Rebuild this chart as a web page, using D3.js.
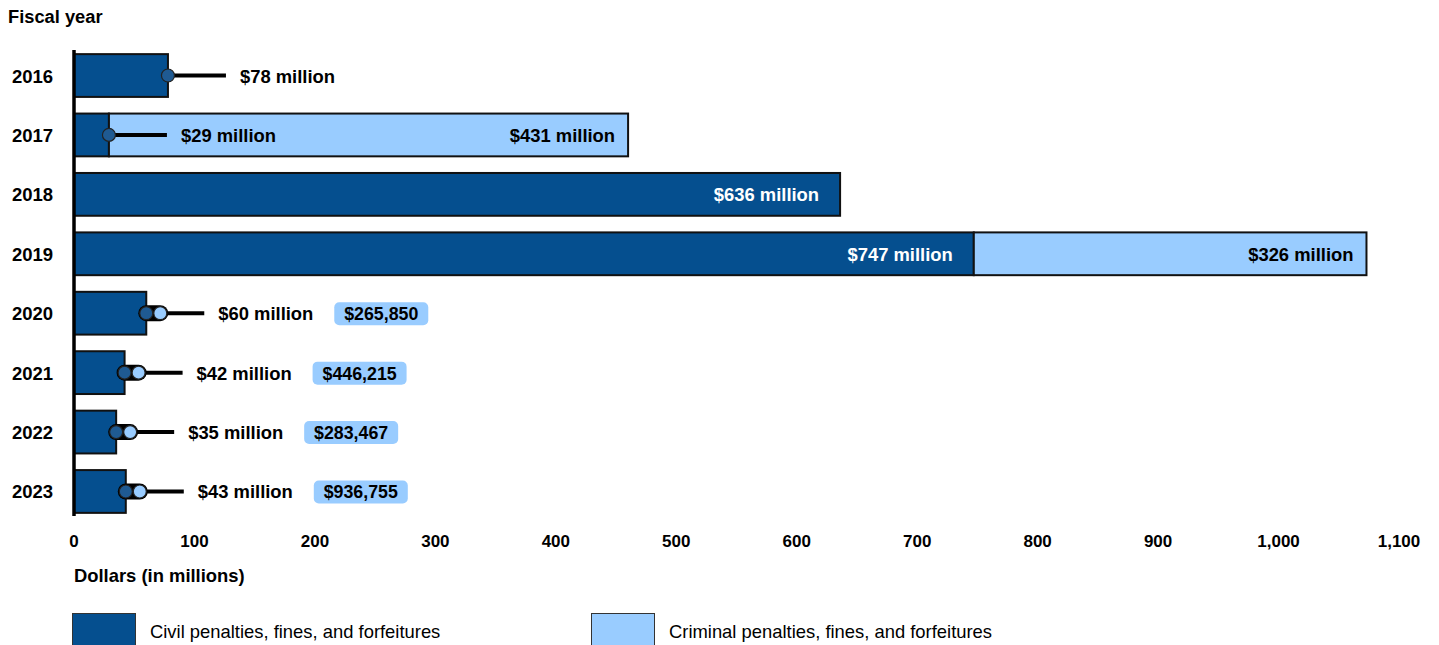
<!DOCTYPE html>
<html>
<head>
<meta charset="utf-8">
<script src="https://cdn.jsdelivr.net/npm/d3@7"></script>
<style>
  body { margin: 0; background: #fff; }
  svg text { font-family: "Liberation Sans", Arial, sans-serif; }
</style>
</head>
<body>
<svg id="chart" width="1439" height="645"></svg>
<script>
// fiscal years and amounts in millions of dollars
const years = ["2016", "2017", "2018", "2019", "2020", "2021", "2022", "2023"];
const civil = [78, 29, 636, 747, 60, 42, 35, 43];
const criminal = [0, 431, 0, 326, 0.265850, 0.446215, 0.283467, 0.936755];
const civilLabels = ["$78 million", "$29 million", "$636 million", "$747 million",
  "$60 million", "$42 million", "$35 million", "$43 million"];
const criminalLabels = ["", "$431 million", "", "$326 million",
  "$265,850", "$446,215", "$283,467", "$936,755"];
const xTicks = [0, 100, 200, 300, 400, 500, 600, 700, 800, 900, 1000, 1100];
const legendNames = ["Civil penalties, fines, and forfeitures", "Criminal penalties, fines, and forfeitures"];

const dark = "#054f8f";
const light = "#99ccff";
const fs = 18.4;

const svg = d3.select("#chart");

const x = d3.scaleLinear().domain([0, 1100]).range([74, 1399]);
const y = d3.scaleBand().domain(years).range([47, 520]).paddingInner(0.28).paddingOuter(0.12);

const rows = years.map((yr, i) => ({
  year: yr, civil: civil[i], criminal: criminal[i],
  cLab: civilLabels[i], kLab: criminalLabels[i]
}));

// "Fiscal year" title
svg.append("text").attr("x", 8).attr("y", 23)
  .attr("font-size", 18.3).attr("font-weight", "bold").text("Fiscal year");

// year labels
svg.append("g").selectAll("text").data(rows).enter().append("text")
  .attr("x", 12)
  .attr("y", d => y(d.year) + y.bandwidth() / 2 + 7)
  .attr("font-size", 18.5).attr("font-weight", "bold")
  .text(d => d.year);

// x tick labels
svg.append("g").selectAll("text").data(xTicks).enter().append("text")
  .attr("x", d => x(d)).attr("y", 547)
  .attr("text-anchor", "middle")
  .attr("font-size", 17).attr("font-weight", "bold")
  .text(d => d3.format(",")(d));

svg.append("text").attr("x", 74).attr("y", 582)
  .attr("font-size", 18.4).attr("font-weight", "bold").text("Dollars (in millions)");

const hasBigCrim = d => d.criminal >= 100;

// bars
const g = svg.append("g");
g.selectAll(".civ").data(rows).enter().append("rect")
  .attr("x", x(0)).attr("y", d => y(d.year))
  .attr("width", d => x(d.civil) - x(0))
  .attr("height", y.bandwidth())
  .attr("fill", dark).attr("stroke", "#111").attr("stroke-width", 2);

g.selectAll(".crim").data(rows.filter(hasBigCrim)).enter().append("rect")
  .attr("x", d => x(d.civil)).attr("y", d => y(d.year))
  .attr("width", d => x(d.civil + d.criminal) - x(d.civil))
  .attr("height", y.bandwidth())
  .attr("fill", light).attr("stroke", "#111").attr("stroke-width", 2);

// labels inside big bars
g.selectAll(".inCiv").data(rows.filter(d => d.civil > 400)).enter().append("text")
  .attr("x", d => x(d.civil) - 21)
  .attr("y", d => y(d.year) + y.bandwidth() / 2 + 7)
  .attr("text-anchor", "end").attr("font-size", fs).attr("font-weight", "bold")
  .attr("fill", "#fff").text(d => d.cLab);

g.selectAll(".inCrim").data(rows.filter(hasBigCrim)).enter().append("text")
  .attr("x", d => x(d.civil + d.criminal) - 13)
  .attr("y", d => y(d.year) + y.bandwidth() / 2 + 7)
  .attr("text-anchor", "end").attr("font-size", fs).attr("font-weight", "bold")
  .attr("fill", "#000").text(d => d.kLab);

// lollipop callouts for small civil bars
const small = rows.filter(d => d.civil < 400);
const cy = d => y(d.year) + y.bandwidth() / 2;
const hasTiny = d => d.criminal > 0 && d.criminal < 100;

g.selectAll(".stem").data(small).enter().append("line")
  .attr("x1", d => x(d.civil)).attr("x2", d => x(d.civil) + 58)
  .attr("y1", cy).attr("y2", cy)
  .attr("stroke", "#000").attr("stroke-width", 4);

g.selectAll(".pill").data(small.filter(hasTiny)).enter().append("rect")
  .attr("x", d => x(d.civil) - 8).attr("y", d => cy(d) - 8)
  .attr("width", 30).attr("height", 16).attr("rx", 8)
  .attr("fill", "#000");

g.selectAll(".dotC").data(small).enter().append("circle")
  .attr("cx", d => x(d.civil)).attr("cy", cy).attr("r", 6.5)
  .attr("fill", "#1f5a92").attr("stroke", "#222").attr("stroke-width", 1.2);

g.selectAll(".dotK").data(small.filter(hasTiny)).enter().append("circle")
  .attr("cx", d => x(d.civil) + 14).attr("cy", cy).attr("r", 6.5)
  .attr("fill", light).attr("stroke", "#222").attr("stroke-width", 1.2);

g.selectAll(".lab").data(small).enter().append("text")
  .attr("x", d => x(d.civil) + 72).attr("y", d => cy(d) + 7)
  .attr("font-size", fs).attr("font-weight", "bold").text(d => d.cLab);

const tiny = small.filter(hasTiny);
g.selectAll(".box").data(tiny).enter().append("rect")
  .attr("x", d => x(d.civil) + 188).attr("y", d => cy(d) - 11)
  .attr("width", 94).attr("height", 23).attr("rx", 5)
  .attr("fill", light);

g.selectAll(".boxLab").data(tiny).enter().append("text")
  .attr("x", d => x(d.civil) + 235).attr("y", d => cy(d) + 7)
  .attr("text-anchor", "middle")
  .attr("font-size", 17.8).attr("font-weight", "bold").text(d => d.kLab);

// y axis line
svg.append("line").attr("x1", x(0)).attr("x2", x(0))
  .attr("y1", 50).attr("y2", 516)
  .attr("stroke", "#000").attr("stroke-width", 3.5);

// legend
const leg = svg.append("g").selectAll("g").data(legendNames).enter().append("g")
  .attr("transform", (d, i) => `translate(${i === 0 ? 72 : 591},613)`);
leg.append("rect").attr("x", 0.5).attr("y", 0.5).attr("width", 63).attr("height", 40)
  .attr("fill", (d, i) => i === 0 ? dark : light).attr("stroke", "#333").attr("stroke-width", 1);
leg.append("text").attr("x", 78).attr("y", 25)
  .attr("font-size", 18.4).text(d => d);
</script>
</body>
</html>
